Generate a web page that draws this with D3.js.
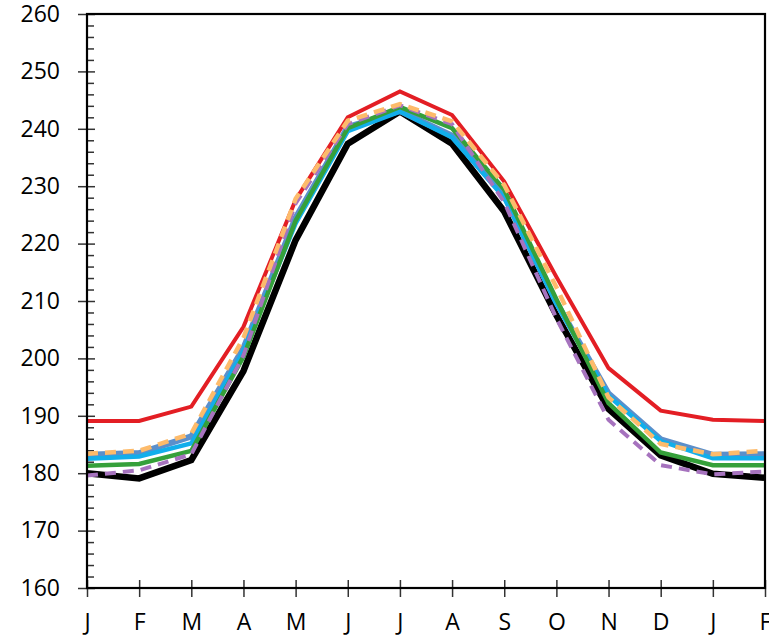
<!DOCTYPE html>
<html>
<head>
<meta charset="utf-8">
<script src="https://cdn.jsdelivr.net/npm/d3@7/dist/d3.min.js"></script>
<style>
  html, body { margin: 0; padding: 0; background: #fff; }
  svg { display: block; }
</style>
</head>
<body>
<svg id="chart" width="769" height="637"></svg>
<script>
// Month labels along the x axis (Jan through the following Feb)
const months = ["J", "F", "M", "A", "M", "J", "J", "A", "S", "O", "N", "D", "J", "F"];

// Y axis tick values
const yTicks = [160, 170, 180, 190, 200, 210, 220, 230, 240, 250, 260];

// Monthly values per series
const redSeries       = [189.1, 189.1, 191.6, 205.5, 227.6, 242.0, 246.5, 242.4, 230.8, 214.2, 198.3, 190.9, 189.3, 189.1];
const steelBlueSeries = [183.2, 183.5, 186.4, 201.8, 224.5, 240.3, 243.1, 238.8, 228.3, 209.8, 193.9, 185.9, 183.2, 183.3];
const lightBlueSeries = [182.5, 182.9, 185.2, 201.3, 223.5, 239.6, 243.0, 238.5, 228.0, 209.5, 193.5, 185.6, 182.6, 182.6];
const greenSeries     = [181.3, 181.6, 183.9, 200.3, 224.0, 240.1, 243.8, 240.1, 229.4, 210.3, 192.2, 183.6, 181.4, 181.4];
const orangeSeries    = [183.4, 183.9, 186.9, 203.6, 227.8, 241.4, 244.3, 241.3, 230.2, 212.4, 193.2, 185.1, 183.3, 183.9];
const purpleSeries    = [179.6, 180.5, 183.3, 200.5, 227.0, 240.8, 244.1, 240.8, 227.2, 207.0, 189.3, 181.4, 179.8, 180.3];
const blackSeries     = [180.0, 179.1, 182.3, 197.8, 220.6, 237.4, 243.0, 237.4, 225.6, 207.5, 191.2, 183.1, 179.9, 179.2];

const margin = { top: 14, right: 4, bottom: 49, left: 87 };
const width = 769, height = 637;
const innerW = width - margin.left - margin.right;
const innerH = height - margin.top - margin.bottom;

const svg = d3.select("#chart");
const g = svg.append("g").attr("transform", `translate(${margin.left},${margin.top})`);

const x = d3.scalePoint().domain(d3.range(months.length)).range([0, innerW]);
const y = d3.scaleLinear().domain([160, 260]).range([innerH, 0]);

const fontFamily = "'Open Sans', sans-serif";

// Minor y ticks (every 2 units, inside the plot)
g.append("g")
  .call(d3.axisRight(y).tickValues(d3.range(160, 261, 2).filter(v => v % 10 !== 0)).tickSize(7).tickFormat(""))
  .call(a => a.select(".domain").remove())
  .call(a => a.selectAll("line").attr("stroke", "#333").attr("stroke-width", 1.5));

// Major y ticks crossing the axis line
g.append("g")
  .call(d3.axisLeft(y).tickValues(yTicks).tickSize(9).tickFormat(""))
  .call(a => a.select(".domain").remove())
  .call(a => a.selectAll("line").attr("stroke", "#333").attr("stroke-width", 1.5));
g.append("g")
  .call(d3.axisRight(y).tickValues(yTicks).tickSize(8).tickFormat(""))
  .call(a => a.select(".domain").remove())
  .call(a => a.selectAll("line").attr("stroke", "#333").attr("stroke-width", 1.5));

// Y labels
g.append("g")
  .call(d3.axisLeft(y).tickValues(yTicks).tickSize(0).tickPadding(27).tickFormat(d3.format("d")))
  .call(a => a.select(".domain").remove())
  .call(a => a.selectAll("text").attr("font-family", fontFamily).attr("font-size", 23).attr("fill", "#000"));

// X ticks crossing the axis line, with month labels
g.append("g")
  .attr("transform", `translate(0,${innerH})`)
  .call(d3.axisBottom(x).tickSize(9).tickPadding(17).tickFormat(i => months[i]))
  .call(a => a.select(".domain").remove())
  .call(a => a.selectAll("line").attr("stroke", "#333").attr("stroke-width", 1.5))
  .call(a => a.selectAll("text").attr("font-family", fontFamily).attr("font-size", 23).attr("fill", "#000"));
g.append("g")
  .attr("transform", `translate(0,${innerH})`)
  .call(d3.axisTop(x).tickSize(8).tickFormat(""))
  .call(a => a.select(".domain").remove())
  .call(a => a.selectAll("line").attr("stroke", "#333").attr("stroke-width", 1.5));

// Series lines
const line = d3.line().x((d, i) => x(i)).y(d => y(d));
const series = [
  { values: blackSeries,     color: "#000000", width: 6.5, dash: null },
  { values: steelBlueSeries, color: "#5B8FCB", width: 6,   dash: null },
  { values: lightBlueSeries, color: "#12AEEB", width: 4.5, dash: null },
  { values: greenSeries,     color: "#35A03A", width: 4.5, dash: null },
  { values: redSeries,       color: "#E31E24", width: 4,   dash: null },
  { values: purpleSeries,    color: "#A673BE", width: 4,   dash: "11,7" },
  { values: orangeSeries,    color: "#FDBB6B", width: 4.5, dash: "11,7" }
];
g.append("g").selectAll("path")
  .data(series)
  .join("path")
  .attr("d", d => line(d.values))
  .attr("fill", "none")
  .attr("stroke", d => d.color)
  .attr("stroke-width", d => d.width)
  .attr("stroke-dasharray", d => d.dash)
  .attr("stroke-linejoin", "miter");

// Plot frame
g.append("rect")
  .attr("x", 0).attr("y", 0)
  .attr("width", innerW).attr("height", innerH)
  .attr("fill", "none")
  .attr("stroke", "#000")
  .attr("stroke-width", 2.2);
</script>
</body>
</html>
